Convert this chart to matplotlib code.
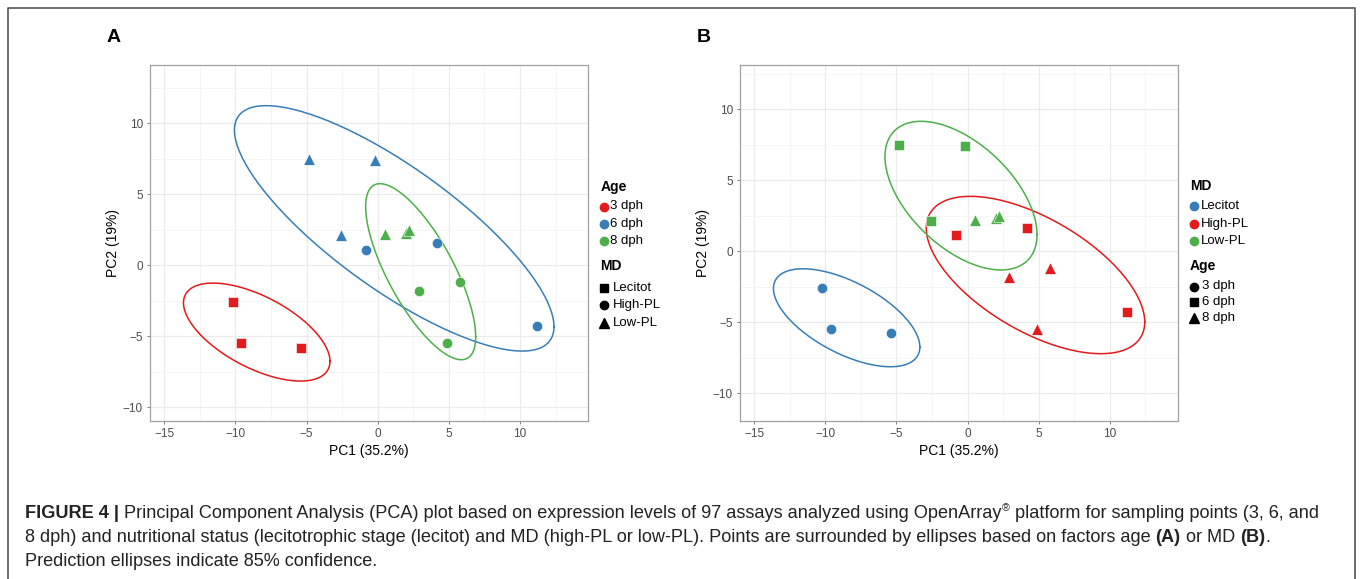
import numpy as np
import matplotlib
matplotlib.use('Agg')
import matplotlib.pyplot as plt
from matplotlib.lines import Line2D

plt.rcParams['font.family'] = ['Liberation Sans', 'DejaVu Sans']

# PCA scores, same 15 samples in both panels
pc1 = [-10.2, -9.6, -5.4, -4.8, -0.2, -2.6, -0.8, 4.2, 11.2, 0.5, 2.0, 2.2, 2.9, 5.8, 4.9]
pc2 = [-2.6, -5.5, -5.8, 7.5, 7.4, 2.1, 1.1, 1.6, -4.3, 2.2, 2.3, 2.5, -1.8, -1.2, -5.5]
age = ['3 dph', '3 dph', '3 dph', '6 dph', '6 dph', '6 dph', '6 dph', '6 dph', '6 dph',
       '8 dph', '8 dph', '8 dph', '8 dph', '8 dph', '8 dph']
md = ['Lecitot', 'Lecitot', 'Lecitot', 'Low-PL', 'Low-PL', 'Low-PL', 'High-PL', 'High-PL', 'High-PL',
      'Low-PL', 'Low-PL', 'Low-PL', 'High-PL', 'High-PL', 'High-PL']

age_levels = ['3 dph', '6 dph', '8 dph']
md_levels = ['Lecitot', 'High-PL', 'Low-PL']

# 85% ellipses: centre x, centre y, var x, var y, cov xy
ell_age = {'3 dph': (-8.5, -4.7, 26.5, 11.9, -10.6),
           '6 dph': (1.16, 2.6, 126.1, 74.6, -77.7),
           '8 dph': (3.02, -0.45, 14.95, 38.4, -17.7)}
ell_md = {'Lecitot': (-8.5, -4.7, 26.5, 11.9, -10.6),
          'High-PL': (4.78, -1.69, 59.0, 30.7, -25.4),
          'Low-PL': (-0.46, 3.9, 28.6, 27.4, -14.7)}

red = '#E41A1C'
blue = '#377EB8'
green = '#4DAF4A'

W, H = 1360, 579
fig = plt.figure(figsize=(W / 100, H / 100), dpi=100)


def fx(px):
    return px / W


def fy(py):
    return 1 - py / H


def ellipse_xy(p):
    cx, cy, sxx, syy, sxy = p
    L = np.linalg.cholesky(np.array([[sxx, sxy], [sxy, syy]]))
    t = np.linspace(0, 2 * np.pi, 300)
    pts = L @ np.vstack([np.cos(t), np.sin(t)])
    return cx + pts[0], cy + pts[1]


def style_axes(ax, ylim):
    ax.set_xticks([-15, -10, -5, 0, 5, 10])
    ax.set_yticks([-10, -5, 0, 5, 10])
    ax.set_xticks(np.arange(-12.5, 14, 5), minor=True)
    ax.set_yticks(np.arange(-7.5, 14, 5), minor=True)
    ax.set_xlim(-16.0, 14.8)
    ax.set_ylim(*ylim)
    ax.set_xticklabels(['\u221215', '\u221210', '\u22125', '0', '5', '10'])
    ax.set_yticklabels(['\u221210', '\u22125', '0', '5', '10'])
    ax.grid(which='major', color='#EBEBEB', lw=0.9)
    ax.grid(which='minor', color='#F4F4F4', lw=0.6)
    ax.set_axisbelow(True)
    ax.tick_params(which='major', length=2.5, width=0.7, color='#7F7F7F',
                   labelsize=8.5, labelcolor='#4D4D4D', pad=2.5)
    ax.tick_params(which='minor', length=0)
    for s in ax.spines.values():
        s.set_color('#A0A0A0')
        s.set_linewidth(0.9)
    ax.set_xlabel('PC1 (35.2%)', fontsize=10, labelpad=3)
    ax.set_ylabel('PC2 (19%)', fontsize=10, labelpad=2)


# ---- panel A: colour = Age, shape = MD
axA = fig.add_axes([fx(150), fy(421), fx(588.3 - 150), (421 - 65) / H])
colA = {'3 dph': red, '6 dph': blue, '8 dph': green}
shpA = {'Lecitot': 's', 'High-PL': 'o', 'Low-PL': '^'}
szA = {'s': 52, 'o': 55, '^': 70}
for a in age_levels:
    ex, ey = ellipse_xy(ell_age[a])
    axA.plot(ex, ey, color=colA[a], lw=1.1)
for i in range(len(pc1)):
    m = shpA[md[i]]
    axA.scatter(pc1[i], pc2[i], marker=m, s=szA[m], color=colA[age[i]],
                edgecolors='white', linewidths=0.4, zorder=3)
style_axes(axA, (-10.96, 14.1))

# ---- panel B: colour = MD, shape = Age
axB = fig.add_axes([fx(740), fy(421), fx(1178 - 740), (421 - 65) / H])
colB = {'Lecitot': blue, 'High-PL': red, 'Low-PL': green}
shpB = {'3 dph': 'o', '6 dph': 's', '8 dph': '^'}
for k in md_levels:
    ex, ey = ellipse_xy(ell_md[k])
    axB.plot(ex, ey, color=colB[k], lw=1.1)
for i in range(len(pc1)):
    m = shpB[age[i]]
    axB.scatter(pc1[i], pc2[i], marker=m, s=szA[m], color=colB[md[i]],
                edgecolors='white', linewidths=0.4, zorder=3)
style_axes(axB, (-11.97, 13.1))

fig.text(fx(107), fy(37), 'A', fontsize=14, fontweight='bold', ha='left', va='center')
fig.text(fx(697), fy(37), 'B', fontsize=14, fontweight='bold', ha='left', va='center')


# ---- legends
def legend_block(x_sym, x_txt, y_title, title, items, ys, colors, marks):
    fig.text(fx(x_sym - 3.5), fy(y_title), title, fontsize=10, fontweight='bold',
             ha='left', va='center')
    for lab, yy, c, mk in zip(items, ys, colors, marks):
        ms = 6.5 if mk == '^' else 6
        fig.add_artist(Line2D([fx(x_sym)], [fy(yy)], marker=mk, color=c, ms=ms, lw=0,
                              transform=fig.transFigure))
        fig.text(fx(x_txt), fy(yy), lab, fontsize=9.5, ha='left', va='center')


legend_block(604, 610.5, 187, 'Age', age_levels, [206.5, 223.5, 241.5],
             [red, blue, green], ['o', 'o', 'o'])
legend_block(604, 612.5, 266, 'MD', md_levels, [287.5, 305.5, 323],
             ['black'] * 3, ['s', 'o', '^'])
legend_block(1194, 1200.5, 186, 'MD', md_levels, [206, 224, 241],
             [blue, red, green], ['o', 'o', 'o'])
legend_block(1193.5, 1202.5, 266, 'Age', age_levels, [286.5, 302, 318],
             ['black'] * 3, ['o', 's', '^'])

# ---- outer frame (open at bottom)
fig.add_artist(Line2D([fx(8), fx(8), fx(1355), fx(1355)], [0, fy(8), fy(8), 0],
                      color='#555555', lw=1.2, transform=fig.transFigure))

# ---- caption, pieces chained along the baseline
renderer = fig.canvas.get_renderer()
cap_size = 13.05


def text_line(x_px, y_px, pieces):
    x = x_px
    for txt, bold, sup in pieces:
        if sup:
            t = fig.text(fx(x + 0.5), fy(y_px - 7), txt, fontsize=cap_size * 0.6,
                         ha='left', va='baseline', color='#222222')
        else:
            t = fig.text(fx(x), fy(y_px), txt, fontsize=cap_size,
                         fontweight='bold' if bold else 'normal',
                         ha='left', va='baseline', color='#222222')
        bb = t.get_window_extent(renderer=renderer)
        x = x + bb.width + (1 if sup else 0)


text_line(25, 518, [('FIGURE 4 |', True, False),
                    (' Principal Component Analysis (PCA) plot based on expression levels of 97 assays analyzed using OpenArray', False, False),
                    ('\u00ae', False, True),
                    (' platform for sampling points (3, 6, and', False, False)])
text_line(25, 542, [('8 dph) and nutritional status (lecitotrophic stage (lecitot) and MD (high-PL or low-PL). Points are surrounded by ellipses based on factors age ', False, False),
                    ('(A)', True, False),
                    (' or MD ', False, False),
                    ('(B)', True, False),
                    ('.', False, False)])
text_line(25, 565.5, [('Prediction ellipses indicate 85% confidence.', False, False)])

fig.savefig('out.png', dpi=100)
